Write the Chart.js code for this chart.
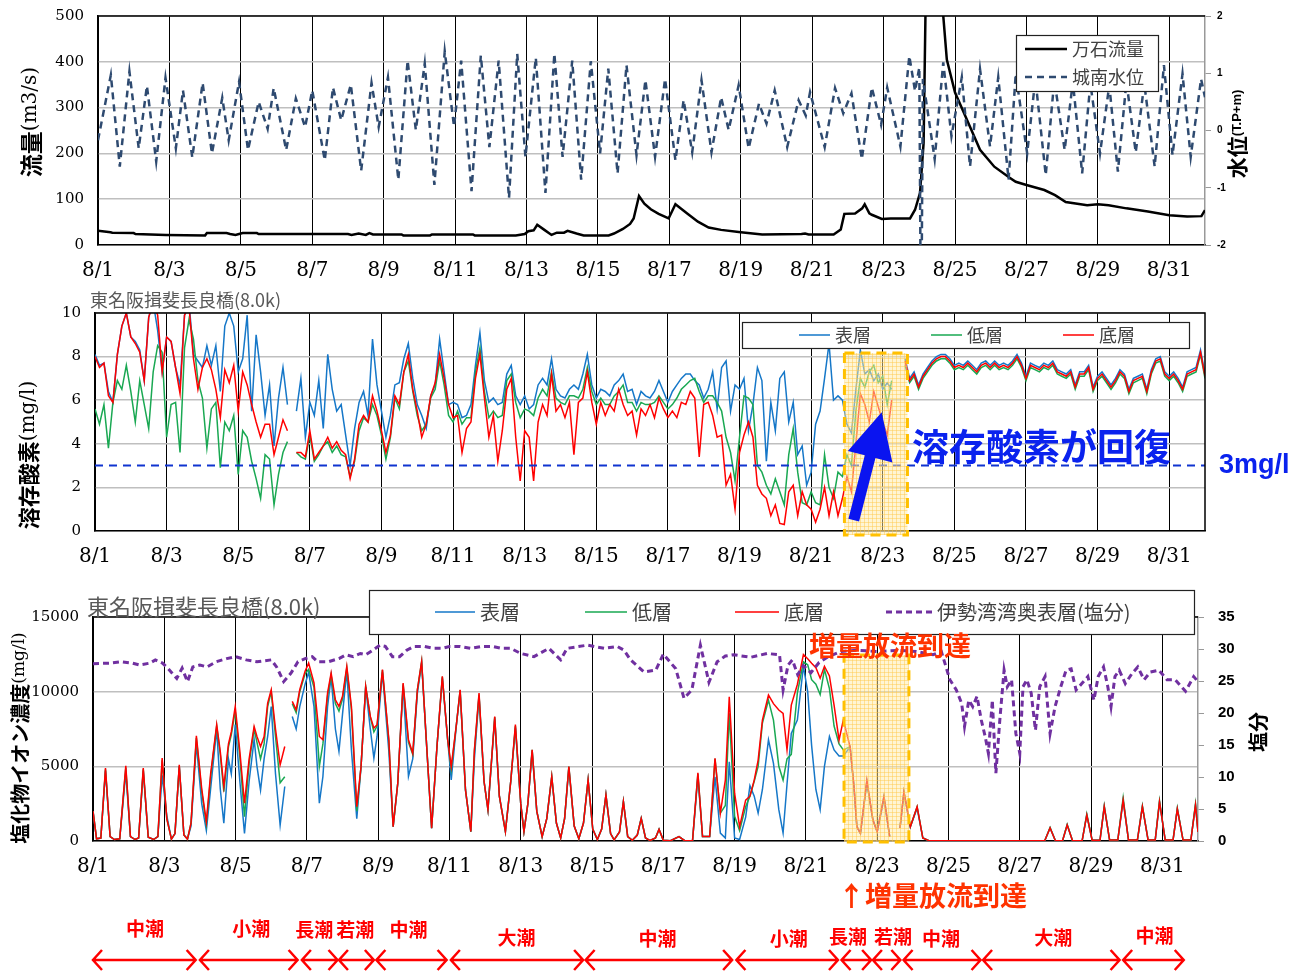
<!DOCTYPE html>
<html lang="ja">
<head>
<meta charset="utf-8">
<title>長良川 流量・溶存酸素・塩化物イオン濃度 (8月)</title>
<script src="https://cdn.jsdelivr.net/npm/chart.js@4.4.1/dist/chart.umd.min.js"></script>
<style>
  body { margin: 0; background: #fff; }
  #wrap { position: relative; width: 1297px; height: 971px; overflow: hidden; }
  #wrap canvas { position: absolute; left: 0; }
</style>
</head>
<body>
<div id="wrap">
  <canvas id="flowChart" width="1297" height="290" style="top:0"></canvas>
  <canvas id="doChart" width="1297" height="290" style="top:290px"></canvas>
  <canvas id="clChart" width="1297" height="391" style="top:580px"></canvas>
</div>
<script>
// ---- data (x = days since 8/1 00:00) ----
const tickDays = [0, 2, 4, 6, 8, 10, 12, 14, 16, 18, 20, 22, 24, 26, 28, 30];
const tickLabels = ['8/1', '8/3', '8/5', '8/7', '8/9', '8/11', '8/13', '8/15', '8/17', '8/19', '8/21', '8/23', '8/25', '8/27', '8/29', '8/31'];

// 万石流量 (m3/s)
const flowPoints = [
  [0, 31], [0.35, 28], [0.4, 27], [1.0, 26], [1.05, 24], [1.9, 22], [3.0, 21], [3.05, 26], [3.6, 26], [3.7, 24],
  [3.85, 22], [4.05, 26], [4.45, 26], [4.5, 24], [7.0, 24], [7.1, 22], [7.3, 25], [7.5, 22], [7.6, 26], [7.7, 23],
  [8.5, 23], [8.55, 21], [9.3, 21], [9.35, 23], [10.5, 23], [10.55, 21], [11.7, 21], [11.95, 24], [12.05, 30], [12.2, 32],
  [12.3, 44], [12.5, 33], [12.7, 22], [12.85, 27], [13.05, 27], [13.15, 31], [13.4, 25], [13.6, 21], [14.3, 21], [14.45, 25],
  [14.7, 35], [14.9, 46], [15.0, 58], [15.15, 107], [15.3, 90], [15.48, 78], [15.7, 68], [15.98, 58], [16.17, 89], [16.5, 69],
  [16.8, 51], [17.1, 38], [17.45, 33], [18.0, 28], [18.6, 23], [19.7, 24], [19.8, 25], [19.9, 23], [20.6, 23], [20.8, 34],
  [20.9, 68], [21.2, 69], [21.4, 80], [21.47, 89], [21.6, 69], [21.67, 66], [21.95, 57], [22.2, 58], [22.74, 58], [22.88, 77],
  [23.02, 114], [23.12, 223], [23.45, 2000], [23.65, 520], [23.77, 405], [24.0, 333], [24.37, 267], [24.7, 208], [25.1, 171], [25.53, 147],
  [25.7, 138], [26.0, 131], [26.5, 120], [26.8, 109], [27.1, 94], [27.7, 87], [28.0, 89], [28.3, 87], [28.8, 80], [29.4, 73],
  [30.0, 65], [30.5, 62], [30.9, 63], [31.0, 76]
];

// 城南水位 (T.P.+m)
const levelPoints = [
  [0, -0.17], [0.36, 0.97], [0.61, -0.63], [0.88, 1.03], [1.14, -0.31], [1.37, 0.78], [1.63, -0.54], [1.89, 0.92], [2.18, -0.31], [2.38, 0.70],
  [2.64, -0.47], [2.93, 0.83], [3.19, -0.40], [3.48, 0.57], [3.66, -0.17], [3.95, 0.85], [4.2, -0.34], [4.5, 0.50], [4.75, 0.03], [4.92, 0.74],
  [5.27, -0.34], [5.54, 0.56], [5.8, 0.06], [6.0, 0.70], [6.35, -0.52], [6.58, 0.75], [6.81, 0.18], [7.08, 0.80], [7.37, -0.70], [7.66, 0.83],
  [7.86, 0.06], [8.12, 0.93], [8.41, -0.86], [8.67, 1.22], [8.9, 0.01], [9.15, 1.17], [9.42, -0.95], [9.71, 1.38], [9.97, 0.07], [10.17, 1.22],
  [10.46, -1.06], [10.72, 1.31], [10.96, -0.29], [11.22, 1.22], [11.51, -1.18], [11.74, 1.34], [11.97, -0.46], [12.26, 1.27], [12.53, -1.09], [12.78, 1.34],
  [13.01, -0.46], [13.28, 1.22], [13.53, -0.86], [13.8, 1.21], [14.06, -0.40], [14.29, 1.08], [14.55, -0.75], [14.8, 1.14], [15.08, -0.43], [15.33, 0.88],
  [15.6, -0.46], [15.88, 0.90], [16.17, -0.52], [16.4, 0.53], [16.64, -0.38], [16.9, 0.88], [17.18, -0.38], [17.45, 0.58], [17.66, 0.01], [17.94, 0.79],
  [18.22, -0.31], [18.51, 0.47], [18.72, 0.12], [18.95, 0.70], [19.3, -0.29], [19.62, 0.53], [19.82, 0.26], [19.94, 0.67], [20.35, -0.29], [20.64, 0.74],
  [20.87, 0.30], [21.1, 0.65], [21.39, -0.50], [21.67, 0.75], [21.93, 0.10], [22.1, 0.75], [22.47, -0.28], [22.72, 1.30], [22.88, 0.69], [23.0, 1.10],
  [23.03, -2.0], [23.07, -2.0], [23.1, 0.9], [23.43, -0.5], [23.67, 1.19], [23.9, -0.1], [24.19, 0.93], [24.42, -0.63], [24.7, 1.07], [24.98, -0.28],
  [25.21, 0.93], [25.5, -0.86], [25.7, 0.99], [26.02, -0.40], [26.25, 0.90], [26.54, -0.78], [26.78, 0.88], [27.07, -0.34], [27.3, 0.85], [27.56, -0.75],
  [27.79, 0.82], [28.06, -0.40], [28.32, 0.79], [28.56, -0.72], [28.8, 0.85], [29.06, -0.38], [29.3, 0.82], [29.59, -0.63], [29.85, 1.14], [30.09, -0.43],
  [30.37, 0.99], [30.6, -0.46], [30.89, 0.90], [31.0, 0.58]
];

// 溶存酸素 (mg/l), one value every 3 hours from 8/1 00:00, one row per day
const doStepDays = 0.125;
const doSurface = [
  8.1,7.6,7.7,6.4,5.9,8.1,9.4,10.0,  8.9,8.7,8.3,6.9,9.8,10.5,9.2,7.3,  8.9,8.7,7.5,6.7,9.9,10.5,8.1,7.8,
  7.5,8.5,7.6,8.5,6.4,9.4,10.0,9.4,  7.3,7.9,9.9,5.5,9.0,7.3,5.3,6.7,  3.9,6.1,7.5,5.8,null,5.5,7.0,4.3,
  5.9,5.3,6.9,4.7,8.1,6.5,5.5,5.8,  4.4,3.0,4.7,5.9,6.4,5.3,8.8,6.7,  5.5,4.3,5.3,6.7,6.8,7.9,8.6,7.0,
  5.8,5.3,4.7,6.2,6.7,8.8,7.3,5.8,  5.9,5.8,5.2,5.3,5.8,7.6,9.1,6.9,  5.9,6.1,5.8,5.9,7.2,7.6,6.2,5.8,
  6.2,5.6,5.8,6.7,7.0,6.7,7.9,6.5,  6.2,6.1,6.5,6.7,6.5,7.2,8.1,6.7,  6.1,6.5,6.4,6.2,6.7,6.9,7.2,6.4,
  6.5,5.8,6.4,6.2,6.1,6.4,6.9,6.4,  5.9,6.4,6.7,7.0,7.2,7.2,6.9,6.7,  6.1,6.5,7.3,5.6,7.5,7.8,5.5,6.7,
  6.5,7.0,4.6,5.8,7.5,6.9,3.2,5.9,  4.6,7.0,7.3,5.0,5.9,3.5,3.9,2.1,  2.7,4.9,5.5,7.0,8.6,6.0,6.2,6.0,
  4.9,4.5,6.5,8.3,7.2,7.4,6.9,7.2,  6.5,6.8,6.5,null,null,7.9,7.0,7.3,  6.7,7.2,7.5,7.8,8.0,8.1,8.1,7.9,
  7.6,7.7,7.6,7.8,7.6,7.4,7.7,7.8,  7.6,7.8,7.6,7.7,7.6,7.8,8.1,7.7,  7.1,7.7,7.6,7.5,7.7,7.6,7.8,7.4,
  7.3,7.2,7.4,6.7,7.3,7.3,7.6,6.6,  7.1,7.3,7.0,6.7,7.0,7.4,7.2,6.5,  7.0,7.1,7.2,6.5,7.4,7.9,8.0,7.3,
  7.1,7.3,7.0,6.6,7.3,7.4,7.5,8.3,  7.2
];
const doMiddle = [
  5.6,4.9,5.8,3.8,5.9,6.9,6.5,7.6,  6.4,5.0,6.9,5.8,4.7,7.3,8.5,8.2,  4.3,5.8,5.9,3.6,8.4,9.7,8.8,6.9,
  6.1,3.8,5.6,5.9,2.9,5.0,4.6,5.3,  2.6,4.6,4.3,3.2,2.4,1.5,3.5,3.3,  1.2,2.6,3.6,4.1,null,3.6,3.4,3.3,
  4.4,3.2,3.5,3.9,4.1,3.6,3.9,3.5,  3.4,2.5,3.2,4.6,5.2,5.0,5.8,5.3,  4.4,3.3,4.3,6.1,5.6,7.3,7.8,6.4,
  5.3,4.6,4.9,6.1,6.5,7.8,6.7,5.3,  5.0,5.5,4.9,5.2,5.2,7.3,8.4,6.4,  5.2,5.5,5.2,5.3,6.9,7.2,5.9,5.2,
  5.6,5.5,5.3,6.1,6.5,6.2,7.3,6.1,  5.9,5.8,6.2,6.2,6.1,6.5,7.5,6.4,  5.8,6.1,5.8,5.8,6.2,6.4,6.7,5.9,
  5.9,5.5,5.9,5.8,5.8,5.9,6.2,5.9,  5.6,5.8,6.1,6.5,6.7,6.9,7.0,6.4,  5.9,6.2,6.2,5.9,5.5,4.3,3.6,2.3,
  4.3,6.2,6.1,5.8,3.0,2.7,2.1,1.7,  2.4,1.8,1.2,3.5,4.7,2.7,1.3,1.2,  1.8,1.3,1.2,3.5,2.0,1.5,2.7,2.5,
  3.5,3.0,5.5,7.0,6.6,7.3,7.6,6.8,  7.1,5.8,6.9,null,null,7.6,6.8,7.1,  6.5,7.0,7.3,7.6,7.8,7.9,7.9,7.7,
  7.4,7.5,7.4,7.6,7.4,7.2,7.5,7.6,  7.4,7.6,7.4,7.5,7.4,7.6,7.9,7.5,  6.9,7.5,7.4,7.3,7.5,7.4,7.6,7.2,
  7.1,7.0,7.2,6.5,7.1,7.1,7.4,6.4,  6.9,7.1,6.8,6.5,6.8,7.2,7.0,6.3,  6.8,6.9,7.0,6.3,7.2,7.7,7.8,7.1,
  6.9,7.1,6.8,6.4,7.1,7.2,7.3,8.1,  7.0
];
const doBottom = [
  8.0,7.5,7.7,6.2,5.9,8.1,9.4,10.0,  8.9,8.6,8.2,6.9,9.8,10.5,9.9,7.3,  8.9,8.7,7.5,6.3,9.9,10.3,7.9,6.5,
  7.5,7.9,7.4,6.5,5.2,7.4,6.8,7.6,  5.5,7.3,6.7,5.8,5.0,4.3,4.9,4.9,  3.5,4.3,5.1,4.6,null,3.6,3.6,3.4,
  4.6,3.3,3.6,3.9,4.3,3.8,4.1,3.7,  3.5,2.4,3.3,4.9,5.3,5.0,6.2,5.5,  4.6,3.6,4.4,6.2,5.8,7.3,8.1,6.5,
  5.5,4.3,4.9,6.2,6.8,8.1,7.0,5.8,  5.2,5.3,3.6,4.7,5.0,7.0,8.1,6.1,  4.3,5.3,3.2,4.6,6.5,7.0,4.3,2.3,
  4.6,4.3,2.3,5.0,5.8,5.3,7.2,5.5,  5.8,5.2,5.9,3.5,5.9,6.1,7.3,5.9,  4.9,5.9,5.3,5.8,5.5,6.5,5.8,5.3,
  5.5,4.4,5.6,5.3,5.8,5.2,6.1,5.6,  5.2,5.5,5.2,5.9,5.8,6.4,6.1,3.4,  5.8,5.9,5.3,4.3,4.4,2.1,2.6,1.0,
  3.6,4.4,5.0,4.3,2.1,1.7,1.5,0.7,  1.2,0.35,0.3,1.8,2.1,0.7,1.8,1.2,  1.0,0.4,1.0,2.0,0.7,1.8,0.7,1.5,
  2.5,1.8,4.0,6.3,5.8,5.0,6.4,5.7,  5.0,4.4,6.0,null,null,7.8,6.9,7.2,  6.6,7.1,7.4,7.7,7.9,8.0,8.0,7.8,
  7.5,7.6,7.5,7.7,7.5,7.3,7.6,7.7,  7.5,7.7,7.5,7.6,7.5,7.7,8.0,7.6,  7.0,7.6,7.5,7.4,7.6,7.5,7.7,7.3,
  7.2,7.1,7.3,6.6,7.2,7.2,7.5,6.5,  7.0,7.2,6.9,6.6,6.9,7.3,7.1,6.4,  6.9,7.0,7.1,6.4,7.3,7.8,7.9,7.2,
  7.0,7.2,6.9,6.5,7.2,7.3,7.4,8.2,  7.1
];
const doStandard = 3;

// 塩化物イオン濃度 (mg/l)
const clDays = [
  0,0.1,0.22,0.35,0.48,0.6,0.75,0.92,1.05,1.18,  1.28,1.41,1.55,1.7,1.82,1.94,2.07,2.2,2.3,2.42,
  2.55,2.65,2.75,2.9,3.05,3.18,3.3,3.47,3.57,3.67,  3.8,3.88,3.99,4.12,4.25,4.38,4.52,4.6,4.7,4.8,
  4.9,5.0,5.12,5.25,5.38,5.48,5.59,5.7,5.8,5.95,  6.05,6.2,6.35,6.45,6.58,6.68,6.8,6.9,7.0,7.12,
  7.25,7.4,7.52,7.65,7.78,7.88,7.97,8.12,8.3,8.42,  8.55,8.7,8.85,8.97,9.1,9.22,9.35,9.5,9.65,9.8,
  9.95,10.05,10.2,10.3,10.45,10.6,10.7,10.83,10.97,11.08,  11.27,11.4,11.57,11.72,11.85,12.0,12.09,12.2,12.32,12.45,
  12.6,12.73,12.87,13.0,13.12,13.23,13.35,13.5,13.63,13.76,  13.89,14.02,14.15,14.27,14.39,14.52,14.62,14.77,14.88,15.0,
  15.13,15.27,15.38,15.5,15.63,15.78,15.88,16.0,16.2,16.44,  16.6,16.82,16.97,17.1,17.3,17.45,17.6,17.74,17.85,18.0,
  18.14,18.31,18.43,18.55,18.66,18.78,18.95,19.09,19.24,19.36,  19.47,19.59,19.76,19.93,20.05,20.16,20.28,20.4,20.52,20.66,
  20.79,20.93,21.05,21.24,21.35,21.43,21.53,21.71,21.88,22.0,  22.19,22.35,22.5,22.64,22.75,22.93,23.12,23.28,23.45,26.7,
  26.85,27.0,27.2,27.33,27.48,27.75,27.88,28.03,28.25,28.37,  28.52,28.75,28.9,29.05,29.3,29.44,29.6,29.8,29.92,30.08,
  30.3,30.42,30.58,30.8,30.93,31.0
];
const clSurface = [
  2000,150,200,4700,300,100,150,4600,300,100,  200,4700,250,100,300,4400,1700,130,500,5000,
  400,130,1000,6500,2500,700,3500,7500,3500,1200,  5500,4500,7800,4000,510,4000,6800,5000,3400,5500,
  7000,9000,4500,1070,3650,null,8340,7500,9000,10500,  11300,9000,2530,4320,9000,11000,7500,6000,8500,11400,
  6100,1500,5000,10300,7500,5550,7000,11300,6000,960,  3870,10400,4320,5500,9900,11900,6780,850,6330,10900,
  6780,4090,7900,10000,3420,630,5500,9700,4000,2100,  8200,3000,630,4000,7600,2500,630,2500,6000,2000,
  290,1500,4250,1200,200,1500,4900,1000,150,1200,  4090,800,100,800,3090,500,80,600,2640,300,
  50,400,1520,200,30,200,780,50,20,290,  20,30,4300,300,300,4300,530,200,5300,200,
  100,1600,3700,3000,1870,3450,6770,5200,2100,530,  3800,7200,8100,11700,10000,6400,3450,2100,5000,7000,
  6100,5700,5700,6300,3500,960,510,3900,1400,620,  2800,290,null,870,3200,960,2200,200,20,20,
  870,20,20,1070,20,30,1740,50,50,2300,  60,60,2700,60,60,2300,60,60,2600,60,
  60,2140,60,60,2400,600
];
const clMiddle = [
  2000,150,200,4800,300,100,150,4900,300,100,  200,4800,250,100,300,5400,1500,130,500,5000,
  400,130,1200,6900,3300,1100,4300,7700,5800,3300,  6300,7100,8700,5600,1630,5200,7500,6600,5500,6500,
  9000,10000,7000,3900,4300,null,9200,8600,10000,11200,  11500,10300,5000,6500,9700,11100,9200,8700,9500,11600,
  8800,2000,4990,10360,8300,7300,7700,11450,6700,960,  3870,10500,6600,5800,10100,12000,6780,850,6330,11000,
  6780,4800,7900,10100,3420,630,6000,9800,4000,2100,  8300,3000,630,4000,7700,2500,630,2500,6100,2000,
  290,1500,4320,1200,200,1500,4990,1000,150,1200,  4090,800,100,800,3090,500,80,600,2640,300,
  50,400,1520,200,30,200,780,50,20,290,  20,30,4500,300,300,5500,1870,2380,8550,1650,
  700,2300,3000,4000,5000,7900,9430,8100,5000,4080,  5500,5800,9900,12000,11800,10800,10500,9800,11500,10200,
  7700,6500,6100,6300,3630,960,510,4000,1400,620,  3000,290,null,870,3300,960,2300,200,20,20,
  900,20,20,1100,20,30,1800,50,50,2350,  60,60,2900,60,60,2350,60,60,2700,60,
  60,2200,60,60,2500,600
];
const clBottom = [
  2000,150,200,4880,300,100,150,5030,300,100,  200,4880,250,100,300,5550,1500,130,500,5100,
  400,130,1200,7050,3500,1300,4500,7790,6000,3650,  6500,7300,9000,6000,2530,5500,7670,7000,6330,7000,
  9240,10130,7500,5100,6330,null,9350,8790,10130,11360,  11920,10580,7000,6780,9910,11250,9460,9010,9690,11700,
  9010,2300,4990,10360,8340,7560,7790,11480,6780,960,  3870,10580,6780,5880,10130,12030,6780,850,6330,11030,
  6780,4990,7900,10130,3420,630,6100,9910,4000,2100,  8340,3000,630,4000,7790,2500,630,2500,6100,2000,
  290,1500,4320,1200,200,1500,4990,1000,150,1200,  4090,800,100,800,3090,500,80,600,2640,300,
  50,400,1520,200,30,200,780,50,20,290,  20,30,4570,300,300,5530,1870,4080,9660,3200,
  960,2740,3000,4080,5420,8100,9770,9200,8770,8550,  6100,9100,10480,12490,12200,11900,11600,10900,11700,11050,
  9100,6770,8100,6300,3630,960,510,4080,1400,620,  2970,290,null,870,3300,960,2300,200,20,20,
  870,20,20,1070,20,30,1740,50,50,2300,  60,60,2740,60,60,2300,60,60,2630,60,
  60,2140,60,60,2410,600
];

// 伊勢湾湾奥表層 塩分
const salinityPoints = [
  [0, 27.7], [0.5, 27.8], [0.8, 28.0], [1.1, 27.8], [1.3, 27.5], [1.6, 27.8], [1.75, 28.3], [1.95, 27.8], [2.1, 27.0], [2.35, 25.4],
  [2.5, 27.0], [2.65, 24.9], [2.8, 27.2], [3.0, 27.5], [3.2, 27.2], [3.45, 28.0], [3.75, 28.5], [4.0, 28.8], [4.3, 28.3], [4.6, 28.0],
  [5.0, 28.3], [5.15, 27.2], [5.35, 24.9], [5.55, 26.2], [5.75, 28.0], [5.95, 28.5], [6.15, 28.8], [6.3, 28.0], [6.6, 28.0], [6.9, 28.5],
  [7.1, 29.1], [7.3, 28.8], [7.5, 29.3], [7.65, 29.1], [7.85, 29.8], [8.05, 30.6], [8.2, 30.4], [8.4, 28.8], [8.6, 28.8], [8.8, 29.8],
  [9.0, 30.4], [9.3, 30.4], [9.55, 30.1], [9.8, 30.1], [10.0, 30.4], [10.3, 30.4], [10.6, 30.1], [10.9, 30.4], [11.2, 30.4], [11.45, 30.1],
  [11.72, 30.1], [12.0, 29.3], [12.37, 28.8], [12.79, 30.1], [13.12, 28.3], [13.3, 30.1], [13.87, 30.6], [14.34, 30.1], [14.71, 30.4], [14.9, 29.8],
  [15.08, 28.3], [15.46, 26.4], [15.79, 26.7], [16.0, 29.2], [16.35, 26.9], [16.58, 22.3], [16.8, 23.6], [17.04, 30.6], [17.28, 24.8], [17.51, 28.0],
  [17.74, 28.9], [17.98, 29.1], [18.45, 28.7], [18.91, 29.3], [19.26, 29.1], [19.36, 23.6], [19.5, 27.5], [19.62, 28.3], [19.77, 26.0], [19.93, 27.4],
  [20.14, 26.3], [20.37, 27.9], [20.63, 28.8], [20.98, 29.6], [21.45, 29.8], [22.0, 29.6], [22.6, 29.8], [23.1, 29.6], [23.57, 29.1], [23.8, 29.6],
  [24.04, 25.2], [24.22, 23.6], [24.37, 21.5], [24.45, 17.9], [24.57, 22.0], [24.68, 21.0], [24.8, 22.6], [24.92, 18.9], [25.03, 16.3], [25.12, 13.7],
  [25.23, 22.0], [25.33, 10.6], [25.44, 18.9], [25.56, 26.7], [25.65, 24.1], [25.77, 25.2], [25.89, 16.8], [26.0, 13.7], [26.09, 24.1], [26.2, 25.2],
  [26.32, 23.1], [26.44, 17.3], [26.56, 24.1], [26.71, 25.7], [26.85, 16.8], [26.99, 21.0], [27.15, 24.1], [27.3, 26.7], [27.44, 26.9], [27.58, 23.6],
  [27.74, 24.6], [27.91, 25.7], [28.08, 22.0], [28.2, 25.7], [28.35, 27.2], [28.47, 24.1], [28.56, 21.0], [28.67, 25.7], [28.79, 26.7], [28.96, 24.6],
  [29.14, 26.1], [29.31, 27.2], [29.49, 25.2], [29.66, 26.4], [29.9, 26.7], [30.13, 25.2], [30.36, 25.2], [30.65, 23.4], [30.88, 25.7], [31.0, 24.9]
];

// 増量放流到達 period, as drawn in each panel (days)
const arrivalDoPanel = [20.93, 22.69];
const arrivalClPanel = [21.07, 22.89];

// 潮汐区分
const tideNames = ['中潮', '小潮', '長潮', '若潮', '中潮', '大潮', '中潮', '小潮', '長潮', '若潮', '中潮', '大潮', '中潮'];
const tideStart = [0, 3.0, 5.86, 6.9, 7.95, 10.04, 13.82, 18.05, 21.0, 21.88, 22.74, 24.97, 28.9];
const tideEnd = [2.88, 5.74, 6.86, 7.88, 9.92, 13.75, 17.93, 20.9, 21.83, 22.65, 24.9, 28.8, 30.6];
const tideLabelDay = [1.46, 4.44, 6.21, 7.36, 8.85, 11.88, 15.84, 19.52, 21.18, 22.44, 23.79, 26.94, 29.78];

// ---- helpers ----
const JP = '"Noto Sans CJK JP", sans-serif';
const SERIF = '"DejaVu Serif", serif';
const SANS = '"Liberation Sans", Arial, sans-serif';

const pairs = list => list.map(p => ({ x: p[0], y: p[1] }));
const onGrid = (vals, step) => vals.map((v, i) => ({ x: i * step, y: v }));
const onDays = (days, vals) => days.map((d, i) => ({ x: d, y: vals[i] }));

function dayAxis(height) {
  return {
    type: 'linear', min: 0, max: 31,
    afterBuildTicks: s => { s.ticks = tickDays.map(v => ({ value: v })); },
    afterFit: s => { s.height = height; },
    ticks: { callback: (v, i) => tickLabels[i], font: { family: SERIF, size: 20 }, color: '#000', padding: 14, maxRotation: 0, autoSkip: false },
    grid: { color: '#000', lineWidth: 1, drawTicks: false },
    border: { color: '#000', width: 1.5 }
  };
}

// the label gap comes from an invisible tick mark, so it does not pad the plot top
function leftAxis(min, max, step, width) {
  return {
    position: 'left', min: min, max: max,
    ticks: { stepSize: step, callback: v => String(v), font: { family: SERIF, size: 15 }, color: '#000', padding: 0 },
    grid: { color: '#BFBFBF', lineWidth: 1.5, drawTicks: true, tickLength: 14, tickColor: 'rgba(0,0,0,0)' },
    border: { color: '#000', width: 1.5 },
    afterFit: s => { s.width = width; }
  };
}

function rightAxis(min, max, step, width, fontSize, padding) {
  return {
    position: 'right', min: min, max: max,
    ticks: { stepSize: step, font: { family: SANS, size: fontSize, weight: 'bold' }, color: '#000', padding: padding },
    grid: { drawOnChartArea: false, tickLength: 6, color: '#999' },
    border: { color: '#999', width: 1.5 },
    afterFit: s => { s.width = width; }
  };
}

function line(label, data, color, width, extra) {
  return Object.assign({ label: label, data: data, borderColor: color, backgroundColor: color, borderWidth: width,
    pointRadius: 0, tension: 0, spanGaps: false, fill: false }, extra || {});
}

function verticalText(ctx, parts, cx, cy) {
  ctx.save();
  ctx.translate(cx, cy);
  ctx.rotate(-Math.PI / 2);
  let total = 0;
  parts.forEach(p => { ctx.font = p.font; p.w = ctx.measureText(p.text).width; total += p.w; });
  let x = -total / 2;
  ctx.textBaseline = 'middle';
  ctx.textAlign = 'left';
  ctx.fillStyle = '#000';
  parts.forEach(p => { ctx.font = p.font; ctx.fillText(p.text, x, 0); x += p.w; });
  ctx.restore();
}

function topBorder(chart, withRight) {
  const { ctx, chartArea: a } = chart;
  ctx.save();
  ctx.strokeStyle = '#000';
  ctx.lineWidth = 1.5;
  ctx.beginPath();
  ctx.moveTo(a.left, a.top);
  ctx.lineTo(a.right, a.top);
  if (withRight) ctx.lineTo(a.right, a.bottom);
  ctx.stroke();
  ctx.restore();
}

function drawLegend(chart, box, items, font) {
  const ctx = chart.ctx;
  ctx.save();
  ctx.fillStyle = '#fff';
  ctx.fillRect(box.x, box.y, box.w, box.h);
  ctx.strokeStyle = '#222';
  ctx.lineWidth = 1.2;
  ctx.strokeRect(box.x + 0.5, box.y + 0.5, box.w, box.h);
  items.forEach(it => {
    const ds = chart.data.datasets[it.index];
    ctx.beginPath();
    ctx.strokeStyle = ds.borderColor;
    ctx.lineWidth = ds.borderWidth;
    ctx.setLineDash(ds.borderDash || []);
    ctx.moveTo(it.x0, it.y);
    ctx.lineTo(it.x1, it.y);
    ctx.stroke();
    ctx.setLineDash([]);
    ctx.fillStyle = '#404040';
    ctx.font = font;
    ctx.textBaseline = 'middle';
    ctx.textAlign = 'left';
    ctx.fillText(ds.label, it.x1 + 5, it.y);
  });
  ctx.restore();
}

function gridTile() {
  const c = document.createElement('canvas');
  c.width = 4; c.height = 4;
  const g = c.getContext('2d');
  g.fillStyle = 'rgba(255,236,170,0.5)';
  g.fillRect(0, 0, 4, 4);
  g.fillStyle = 'rgba(255,200,70,0.45)';
  g.fillRect(0, 0, 4, 1);
  g.fillRect(0, 0, 1, 4);
  return c;
}

function arrivalBox(chart, period, topY, bottomY) {
  const { ctx, scales: { x } } = chart;
  const x0 = x.getPixelForValue(period[0]);
  const x1 = x.getPixelForValue(period[1]);
  ctx.save();
  ctx.fillStyle = ctx.createPattern(gridTile(), 'repeat');
  ctx.fillRect(x0, topY, x1 - x0, bottomY - topY);
  ctx.strokeStyle = '#FFC000';
  ctx.lineWidth = 3;
  ctx.setLineDash([10, 6]);
  ctx.strokeRect(x0, topY, x1 - x0, bottomY - topY);
  ctx.restore();
}

function blockArrow(ctx, x0, y0, x1, y1, shaft, head, headLen, color) {
  const ang = Math.atan2(y1 - y0, x1 - x0);
  const len = Math.hypot(x1 - x0, y1 - y0);
  ctx.save();
  ctx.translate(x0, y0);
  ctx.rotate(ang);
  ctx.beginPath();
  ctx.moveTo(0, -shaft / 2);
  ctx.lineTo(len - headLen, -shaft / 2);
  ctx.lineTo(len - headLen, -head / 2);
  ctx.lineTo(len, 0);
  ctx.lineTo(len - headLen, head / 2);
  ctx.lineTo(len - headLen, shaft / 2);
  ctx.lineTo(0, shaft / 2);
  ctx.closePath();
  ctx.fillStyle = color;
  ctx.fill();
  ctx.restore();
}

function text(ctx, str, x, y, font, color) {
  ctx.save();
  ctx.font = font;
  ctx.fillStyle = color;
  ctx.textAlign = 'left';
  ctx.textBaseline = 'middle';
  ctx.fillText(str, x, y);
  ctx.restore();
}

Chart.defaults.font.family = JP;

// ---- panel 1: 流量・水位 ----
new Chart(document.getElementById('flowChart'), {
  type: 'line',
  data: {
    datasets: [
      line('城南水位', pairs(levelPoints), '#2E4A70', 2.5, { yAxisID: 'y1', borderDash: [7, 5], order: 0 }),
      line('万石流量', pairs(flowPoints), '#000', 2.5, { yAxisID: 'y', order: 1 })
    ]
  },
  options: {
    responsive: false, animation: false,
    layout: { padding: { top: 16, right: 0, bottom: 0, left: 0 } },
    plugins: { legend: { display: false }, tooltip: { enabled: false } },
    scales: {
      x: dayAxis(45),
      y: leftAxis(0, 500, 100, 98),
      y1: rightAxis(-2, 2, 1, 92, 10, 6)
    }
  },
  plugins: [{
    id: 'flowDecor',
    afterDraw(chart) {
      const ctx = chart.ctx;
      topBorder(chart, false);
      drawLegend(chart, { x: 1016, y: 35, w: 142, h: 56 }, [
        { index: 1, x0: 1025, x1: 1067, y: 49 },
        { index: 0, x0: 1025, x1: 1067, y: 77 }
      ], '18px ' + JP);
      verticalText(ctx, [{ text: '流量', font: 'bold 23px ' + JP }, { text: '(m3/s)', font: '20px ' + SERIF }], 31, 122);
      verticalText(ctx, [{ text: '水位', font: 'bold 21px ' + JP }, { text: '(T.P+m)', font: 'bold 13px ' + SANS }], 1237, 134);
    }
  }]
});

// ---- panel 2: 溶存酸素 ----
new Chart(document.getElementById('doChart'), {
  type: 'line',
  data: {
    datasets: [
      line('表層', onGrid(doSurface, doStepDays), '#1577C8', 1.5, { order: 3 }),
      line('低層', onGrid(doMiddle, doStepDays), '#19A852', 1.5, { order: 2 }),
      line('底層', onGrid(doBottom, doStepDays), '#FF0000', 1.5, { order: 1 }),
      line('3mg/l', [{ x: 0, y: doStandard }, { x: 31, y: doStandard }], '#1034D0', 2, { borderDash: [8, 6], order: 0 })
    ]
  },
  options: {
    responsive: false, animation: false,
    layout: { padding: { top: 23, right: 92, bottom: 0, left: 0 } },
    plugins: { legend: { display: false }, tooltip: { enabled: false } },
    scales: {
      x: dayAxis(49),
      y: leftAxis(0, 10, 2, 95)
    }
  },
  plugins: [{
    id: 'doDecor',
    afterDraw(chart) {
      const { ctx, scales: { x, y }, chartArea: a } = chart;
      topBorder(chart, true);
      arrivalBox(chart, arrivalDoPanel, 63, a.bottom + 4);
      blockArrow(ctx, x.getPixelForValue(21.19), y.getPixelForValue(0.5),
        x.getPixelForValue(21.97), y.getPixelForValue(5.45), 11, 46, 46, '#0A14F0');
      drawLegend(chart, { x: 742, y: 32, w: 447, h: 26 }, [
        { index: 0, x0: 799, x1: 830, y: 45 },
        { index: 1, x0: 931, x1: 962, y: 45 },
        { index: 2, x0: 1063, x1: 1094, y: 45 }
      ], '18px ' + JP);
      text(ctx, '東名阪揖斐長良橋(8.0k)', 90, 10, '18px ' + JP, '#595959');
      text(ctx, '溶存酸素が回復', 912, 157, 'bold 37px ' + JP, '#0A22EE');
      text(ctx, '3mg/l', 1219, 176, 'bold 27px ' + SANS, '#0A22EE');
      verticalText(ctx, [{ text: '溶存酸素', font: 'bold 22px ' + JP }, { text: '(mg/l)', font: '20px ' + SERIF }], 29, 165);
    }
  }]
});

// ---- panel 3: 塩化物イオン濃度・塩分 ----
new Chart(document.getElementById('clChart'), {
  type: 'line',
  data: {
    datasets: [
      line('表層', onDays(clDays, clSurface), '#1577C8', 1.5, { order: 3 }),
      line('低層', onDays(clDays, clMiddle), '#19A852', 1.5, { order: 2 }),
      line('底層', onDays(clDays, clBottom), '#FF0000', 1.5, { order: 1 }),
      line('伊勢湾湾奥表層(塩分)', pairs(salinityPoints), '#7030A0', 3, { yAxisID: 'y1', borderDash: [6, 4], order: 0 })
    ]
  },
  options: {
    responsive: false, animation: false,
    layout: { padding: { top: 37, right: 0, bottom: 0, left: 0 } },
    plugins: { legend: { display: false }, tooltip: { enabled: false } },
    scales: {
      x: dayAxis(130),
      y: leftAxis(0, 15000, 5000, 93),
      y1: rightAxis(0, 35, 5, 99, 15, 14)
    }
  },
  plugins: [{
    id: 'clDecor',
    afterDraw(chart) {
      const { ctx, scales: { x }, chartArea: a } = chart;
      topBorder(chart, false);
      arrivalBox(chart, arrivalClPanel, 75, a.bottom + 1);
      drawLegend(chart, { x: 369, y: 10, w: 825, h: 44 }, [
        { index: 0, x0: 435, x1: 475, y: 32 },
        { index: 1, x0: 585, x1: 627, y: 32 },
        { index: 2, x0: 735, x1: 779, y: 32 },
        { index: 3, x0: 886, x1: 932, y: 32 }
      ], '20px ' + JP);
      text(ctx, '東名阪揖斐長良橋(8.0k)', 87, 27, '22px ' + JP, '#595959');
      text(ctx, '増量放流到達', 809, 66, 'bold 27px ' + JP, '#FF3300');
      text(ctx, '↑増量放流到達', 838, 316, 'bold 27px ' + JP, '#FF3300');
      verticalText(ctx, [{ text: '塩化物イオン濃度', font: 'bold 20px ' + JP }, { text: '(mg/l)', font: '17px ' + SERIF }], 20, 158);
      verticalText(ctx, [{ text: '塩分', font: 'bold 20px ' + JP }], 1258, 152);

      // 潮汐区分の矢印
      const tideLabelTop = [929, 929, 930, 930, 930, 938, 939, 939, 937, 937, 939, 938, 936];
      const ay = 960 - 580;
      ctx.save();
      ctx.strokeStyle = '#FF0000';
      ctx.fillStyle = '#FF0000';
      ctx.lineWidth = 2.5;
      ctx.font = 'bold 19px ' + JP;
      ctx.textAlign = 'center';
      ctx.textBaseline = 'middle';
      tideNames.forEach((name, i) => {
        const xs = x.getPixelForValue(tideStart[i]);
        const xe = x.getPixelForValue(tideEnd[i]);
        ctx.beginPath();
        ctx.moveTo(xs, ay); ctx.lineTo(xe, ay);
        ctx.moveTo(xs + 9, ay - 10); ctx.lineTo(xs, ay); ctx.lineTo(xs + 9, ay + 10);
        ctx.moveTo(xe - 9, ay - 10); ctx.lineTo(xe, ay); ctx.lineTo(xe - 9, ay + 10);
        ctx.stroke();
        ctx.fillText(name, x.getPixelForValue(tideLabelDay[i]), tideLabelTop[i] - 580);
      });
      ctx.restore();
    }
  }]
});
</script>
</body>
</html>
